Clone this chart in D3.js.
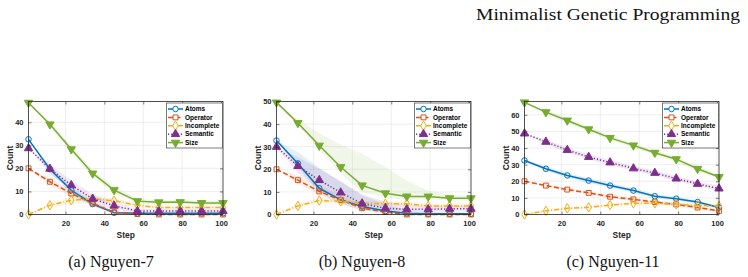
<!DOCTYPE html>
<html>
<head>
<meta charset="utf-8">
<script src="https://cdn.jsdelivr.net/npm/d3@7"></script>
<style>
  body { margin: 0; background: #fff; }
  svg { display: block; }
  .tick-label { font-family: "Liberation Sans", Arial, sans-serif; font-weight: bold; font-size: 7.5px; fill: #262626; }
  .axis-title { font-family: "Liberation Sans", Arial, sans-serif; font-weight: bold; font-size: 8.5px; fill: #262626; }
  .legend-text { font-family: "Liberation Sans", Arial, sans-serif; font-weight: bold; font-size: 6.5px; fill: #000; }
  .caption { font-family: "Liberation Serif", "Times New Roman", serif; font-size: 16px; fill: #111; }
  .page-title { font-family: "Liberation Serif", "Times New Roman", serif; font-size: 17.5px; fill: #111; }
</style>
</head>
<body>
<svg id="chart"></svg>
<script>
// ---- data ----
const seriesNames = ['Atoms', 'Operator', 'Incomplete', 'Semantic', 'Size'];
const steps = [1, 12, 23, 34, 45, 57, 68, 79, 90, 101];
const xTicks = [20, 40, 60, 80, 100];

// rows follow seriesNames
const nguyen7 = [
  [32.6, 19.7, 10.5, 4.5, 0.8, 0.5, 0.5, 0.5, 0.5, 0.5],
  [20, 14.2, 9.1, 4.8, 1, 0.2, 0, 0, 0, 0],
  [0, 4, 6.2, 6.8, 6, 4, 3, 3, 3, 3],
  [28.7, 19.8, 12.7, 6.8, 3.8, 1.5, 1.5, 1.5, 1.5, 1.5],
  [48.5, 39.1, 28.3, 17.8, 10.6, 5.8, 5.3, 5.4, 5, 5]
];
const nguyen7Up = [
  [0, 1.5, 1.5, 1, 0.5, 0.3, 0.3, 0.3, 0.3, 0.3],
  [0, 1.5, 1.5, 1, 0.5, 0.2, 0, 0, 0, 0],
  [0, 1, 1.5, 1.5, 1, 1, 0.8, 0.8, 0.8, 0.8],
  [0, 2, 2, 2, 1.5, 1, 0.8, 0.8, 0.8, 0.8],
  [0, 1, 1.5, 1.5, 1.5, 1, 1, 1, 1, 1]
];
const nguyen7Down = nguyen7Up;

const nguyen8 = [
  [32.7, 22.6, 11.6, 6.5, 3.5, 1.5, 0.5, 0.3, 0.3, 0.3],
  [20, 15.2, 10.2, 6.4, 2.8, 1.1, 0, 0, 0, 0],
  [0, 3.8, 6.2, 5.8, 5, 4.8, 4.8, 3.8, 3.8, 3.8],
  [29.9, 21.4, 15.2, 9.7, 4.8, 2.8, 2.3, 2.3, 2.5, 2.5],
  [49.6, 40.5, 30.5, 21, 12.9, 9.4, 8, 8, 7.2, 7.2]
];
const nguyen8Up = [
  [0, 5, 9, 8, 5, 3, 1.5, 1, 1, 1],
  [0, 2, 2.5, 2, 1.5, 1, 0.5, 0.3, 0.3, 0.3],
  [0, 1, 1, 1, 1, 1, 1, 1, 1, 1],
  [0, 4, 5, 5, 4, 3, 2, 1.5, 1.5, 1.5],
  [0, 1.5, 5.5, 10, 14, 11.6, 7, 2.5, 1.8, 1]
];
const nguyen8Down = [
  [0, 2, 2, 2, 1.5, 1, 0.5, 0.3, 0.3, 0.3],
  [0, 1.5, 1.5, 1.5, 1, 0.5, 0, 0, 0, 0],
  [0, 1, 1, 1, 1, 1, 1, 1, 1, 1],
  [0, 3, 4, 3, 2, 1.5, 1, 1, 1, 1],
  [0, 1, 2, 3, 3, 2, 1.5, 1, 1, 1]
];

const nguyen11 = [
  [32.5, 27.5, 23.5, 20.4, 17.4, 14.4, 11, 9.5, 7.5, 4.2],
  [20, 17.4, 15, 13, 10.7, 9.1, 7.5, 6.1, 4.2, 2.2],
  [0, 2.2, 3.7, 4.3, 5.7, 6.7, 6.7, 6.1, 5.5, 5.1],
  [48.7, 43.7, 38.8, 34.6, 31.3, 27.7, 25, 21.6, 18.4, 15.6],
  [67.5, 61.6, 56.6, 51.3, 46.1, 41.6, 37.2, 33.3, 27.5, 22.6]
];
const nguyen11Up = [
  [0, 1.5, 1.5, 1.5, 1.5, 1.5, 1.5, 1.2, 1, 1],
  [0, 1, 1, 1, 1, 1, 1, 1, 1, 1],
  [0, 1, 1, 1, 1, 1, 1, 1, 1, 1],
  [0, 1.5, 1.5, 1.5, 1.5, 1.5, 1.5, 1.5, 1.5, 1.5],
  [0, 1.5, 1.5, 1.5, 1.5, 1.5, 1.5, 1.5, 1.5, 1.5]
];
const nguyen11Down = nguyen11Up;

// ---- styles ----
const colors = ['#0072BD', '#D95319', '#EDB120', '#7E2F8E', '#77AC30'];
const dashes = [null, '5,2.5', '5,2,1,2', '1.2,2', null];
const symbols = [d3.symbolCircle, d3.symbolSquare, d3.symbolDiamond, d3.symbolTriangle, d3.symbolTriangle];
const symbolSizes = [24, 24, 26, 30, 30];
const symbolRotate = [0, 0, 0, 0, 180];
const symbolFilled = [false, false, false, true, true];

const panels = [
  { data: nguyen7, up: nguyen7Up, down: nguyen7Down, yMax: 49, yTicks: [0, 10, 20, 30, 40], caption: '(a) Nguyen-7', left: 28.5, captionX: 111 },
  { data: nguyen8, up: nguyen8Up, down: nguyen8Down, yMax: 50, yTicks: [0, 10, 20, 30, 40, 50], caption: '(b) Nguyen-8', left: 276.5, captionX: 362 },
  { data: nguyen11, up: nguyen11Up, down: nguyen11Down, yMax: 68, yTicks: [0, 10, 20, 30, 40, 50, 60], caption: '(c) Nguyen-11', left: 524.5, captionX: 613 }
];

class CountChart {
  constructor(_config, _panel) {
    this.config = {
      svg: _config.svg,
      left: _config.left,
      top: 101.5,
      width: 194.5,
      height: 113
    };
    this.panel = _panel;
    this.initVis();
  }

  initVis() {
    let vis = this;
    let c = vis.config;

    vis.xScale = d3.scaleLinear().domain([1, 101]).range([0, c.width]);
    vis.yScale = d3.scaleLinear().domain([0, vis.panel.yMax]).range([c.height, 0]);

    vis.chart = c.svg.append('g')
        .attr('transform', `translate(${c.left},${c.top})`);

    // grid
    vis.chart.append('g').selectAll('line.gx')
        .data(xTicks)
      .join('line')
        .attr('x1', d => vis.xScale(d)).attr('x2', d => vis.xScale(d))
        .attr('y1', 0).attr('y2', c.height)
        .attr('stroke', '#e3e3e3').attr('stroke-width', 0.6);
    vis.chart.append('g').selectAll('line.gy')
        .data(vis.panel.yTicks)
      .join('line')
        .attr('x1', 0).attr('x2', c.width)
        .attr('y1', d => vis.yScale(d)).attr('y2', d => vis.yScale(d))
        .attr('stroke', '#e3e3e3').attr('stroke-width', 0.6);

    vis.marks = vis.chart.append('g');

    // axes: ticks inward, mirrored on top/right
    const tick = 3;
    vis.xAxisG = vis.chart.append('g')
        .attr('transform', `translate(0,${c.height})`)
        .call(d3.axisBottom(vis.xScale).tickValues(xTicks).tickSize(-tick).tickPadding(6).tickSizeOuter(0));
    vis.yAxisG = vis.chart.append('g')
        .call(d3.axisLeft(vis.yScale).tickValues(vis.panel.yTicks).tickSize(-tick).tickPadding(5).tickSizeOuter(0));
    vis.chart.append('g')
        .call(d3.axisTop(vis.xScale).tickValues(xTicks).tickSize(-tick).tickFormat('').tickSizeOuter(0));
    vis.chart.append('g')
        .attr('transform', `translate(${c.width},0)`)
        .call(d3.axisRight(vis.yScale).tickValues(vis.panel.yTicks).tickSize(-tick).tickFormat('').tickSizeOuter(0));

    vis.chart.selectAll('.domain').remove();
    vis.chart.selectAll('.tick line').attr('stroke', '#262626').attr('stroke-width', 0.6);
    vis.chart.selectAll('.tick text').attr('class', 'tick-label').attr('font-size', null).attr('font-family', null);

    vis.chart.append('rect')
        .attr('width', c.width).attr('height', c.height)
        .attr('fill', 'none').attr('stroke', '#262626').attr('stroke-width', 0.8);

    vis.chart.append('text')
        .attr('class', 'axis-title')
        .attr('x', c.width / 2).attr('y', c.height + 23.5)
        .attr('text-anchor', 'middle')
        .text('Step');
    vis.chart.append('text')
        .attr('class', 'axis-title')
        .attr('transform', `translate(${-15.5},${c.height / 2}) rotate(-90)`)
        .attr('text-anchor', 'middle')
        .text('Count');

    vis.updateVis();
  }

  updateVis() {
    let vis = this;
    vis.series = seriesNames.map((name, i) => ({
      name: name, i: i,
      values: steps.map((s, j) => ({
        step: s,
        v: vis.panel.data[i][j],
        lo: Math.max(0, vis.panel.data[i][j] - vis.panel.down[i][j]),
        hi: vis.panel.data[i][j] + vis.panel.up[i][j]
      }))
    }));

    vis.line = d3.line()
        .x(d => vis.xScale(d.step))
        .y(d => vis.yScale(d.v));
    vis.area = d3.area()
        .x(d => vis.xScale(d.step))
        .y0(d => vis.yScale(d.lo))
        .y1(d => vis.yScale(d.hi));

    vis.renderVis();
  }

  renderVis() {
    let vis = this;

    vis.marks.selectAll('.band')
        .data(vis.series)
      .join('path')
        .attr('class', 'band')
        .attr('d', d => vis.area(d.values))
        .attr('fill', d => colors[d.i])
        .attr('fill-opacity', 0.11)
        .attr('stroke', 'none');

    const groups = vis.marks.selectAll('.series')
        .data(vis.series)
      .join('g')
        .attr('class', 'series');

    groups.append('path')
        .attr('d', d => vis.line(d.values))
        .attr('fill', 'none')
        .attr('stroke', d => colors[d.i])
        .attr('stroke-width', 1.5)
        .attr('stroke-dasharray', d => dashes[d.i]);

    groups.selectAll('path.marker')
        .data(d => d.values.map(v => ({ ...v, i: d.i })))
      .join('path')
        .attr('class', 'marker')
        .attr('d', d => d3.symbol(symbols[d.i], symbolSizes[d.i])())
        .attr('transform', d => `translate(${vis.xScale(d.step)},${vis.yScale(d.v)}) rotate(${symbolRotate[d.i]})`)
        .attr('fill', d => symbolFilled[d.i] ? colors[d.i] : 'none')
        .attr('stroke', d => colors[d.i])
        .attr('stroke-width', 1);

    // legend
    const c = vis.config;
    const lw = 56, lh = 45;
    const legend = vis.chart.append('g')
        .attr('transform', `translate(${c.width - lw - 0.5},${1.5})`);
    legend.append('rect')
        .attr('width', lw).attr('height', lh)
        .attr('fill', '#fff').attr('stroke', '#262626').attr('stroke-width', 0.6);
    const items = legend.selectAll('.item')
        .data(seriesNames)
      .join('g')
        .attr('class', 'item')
        .attr('transform', (d, i) => `translate(0,${6 + i * 8.4})`);
    items.append('line')
        .attr('x1', 1.5).attr('x2', 16.5)
        .attr('stroke', (d, i) => colors[i])
        .attr('stroke-width', 1.5)
        .attr('stroke-dasharray', (d, i) => dashes[i]);
    items.append('path')
        .attr('d', (d, i) => d3.symbol(symbols[i], symbolSizes[i])())
        .attr('transform', (d, i) => `translate(9,0) rotate(${symbolRotate[i]})`)
        .attr('fill', (d, i) => symbolFilled[i] ? colors[i] : '#fff')
        .attr('stroke', (d, i) => colors[i])
        .attr('stroke-width', 1);
    items.append('text')
        .attr('class', 'legend-text')
        .attr('x', 18.5).attr('dy', '0.35em')
        .text(d => d);
  }
}

const svg = d3.select('#chart').attr('width', 748).attr('height', 277);

svg.append('text')
    .attr('class', 'page-title')
    .attr('x', 740).attr('y', 19.5)
    .attr('text-anchor', 'end')
    .attr('textLength', 264)
    .attr('lengthAdjust', 'spacingAndGlyphs')
    .text('Minimalist Genetic Programming');

panels.forEach(p => {
  new CountChart({ svg: svg, left: p.left }, p);
  svg.append('text')
      .attr('class', 'caption')
      .attr('x', p.captionX).attr('y', 267)
      .attr('text-anchor', 'middle')
      .text(p.caption);
});
</script>
</body>
</html>
